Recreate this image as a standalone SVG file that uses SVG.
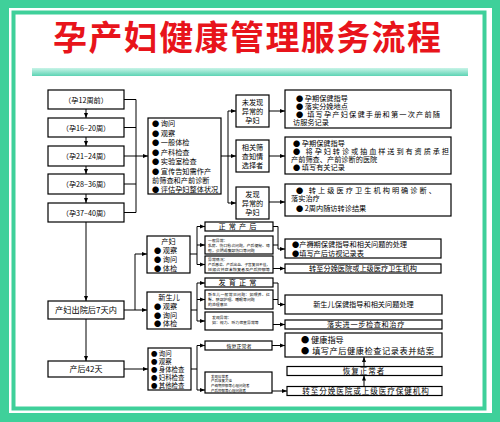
<svg xmlns="http://www.w3.org/2000/svg" width="500" height="422" viewBox="0 0 500 422">
<defs>
<linearGradient id="bar" x1="0" y1="0" x2="0" y2="1">
<stop offset="0" stop-color="#c8f4e8"/><stop offset="1" stop-color="#5cd3b4"/>
</linearGradient>
<marker id="ah" viewBox="0 0 10 10" refX="10" refY="5" markerWidth="5" markerHeight="5" markerUnits="userSpaceOnUse" orient="auto"><path d="M0,1 L10,5 L0,9 z" fill="#000"/></marker>
<style>
.b{fill:#fff;stroke:#000;stroke-width:1.2}
.t{font-family:"Noto Sans CJK SC","Liberation Sans",sans-serif;fill:#000;font-size:7.2px}
.c{text-anchor:middle}
.s{font-size:3.9px}
.l{fill:none;stroke:#000;stroke-width:1}
.a{fill:none;stroke:#000;stroke-width:1;marker-end:url(#ah)}
</style>
</defs>
<rect x="0" y="0" width="500" height="422" fill="#3fd09a"/>
<rect x="9" y="8" width="483" height="405" fill="#fff"/>
<rect x="13.5" y="12.5" width="471" height="396" fill="#fff" stroke="#3fd09a" stroke-width="4"/>
<text x="247" y="50" text-anchor="middle" font-family="'Noto Sans CJK SC','Liberation Sans',sans-serif" font-weight="bold" font-size="34" fill="#e8141b" textLength="388" lengthAdjust="spacing">孕产妇健康管理服务流程</text>
<rect x="32" y="68" width="436" height="8" fill="url(#bar)"/>

<g id="connectors">
<path class="a" d="M86,109V118"/><path class="a" d="M86,137V146"/><path class="a" d="M86,166V174"/><path class="a" d="M86,194V203"/>
<path class="l" d="M124,99.5H136M124,127.5H136M124,156H136M124,184H136M124,212.5H136M136,99.5V212.5"/>
<path class="a" d="M136,156H148"/>
<path class="l" d="M221,156H228M228,111V203"/>
<path class="a" d="M228,111H236"/><path class="a" d="M228,156H236"/><path class="a" d="M228,203H236"/>
<path class="a" d="M269,111H285"/><path class="a" d="M269,156H285"/><path class="a" d="M269,202H285"/>
<path class="a" d="M86,222V301"/>
<path class="a" d="M124,310H147"/>
<path class="l" d="M135,254V310"/><path class="a" d="M135,254H147"/>
<path class="l" d="M190,254H197M197,226.5V264.5"/>
<path class="a" d="M197,226.5H205"/><path class="a" d="M197,245H205"/><path class="a" d="M197,264.5H205"/>
<path class="l" d="M273,226.5H278M273,245H278M278,226.5V249"/>
<path class="a" d="M278,249H285"/>
<path class="a" d="M273,268.5H285"/>
<path class="l" d="M191,310H197M197,283V321"/>
<path class="a" d="M197,283H205"/><path class="a" d="M197,299.5H205"/><path class="a" d="M197,321H205"/>
<path class="l" d="M273,283H278M273,299.5H278M278,283V304.5"/>
<path class="a" d="M278,304.5H285"/>
<path class="a" d="M273,324.5H285"/>
<path class="a" d="M86,319V361"/>
<path class="a" d="M124,369H148"/>
<path class="l" d="M191,369H197M197,345.5V390"/>
<path class="a" d="M197,345.5H205"/><path class="a" d="M197,390H205"/>
<path class="a" d="M272,345.5H285"/>
<path class="a" d="M272,391H287"/>
<path class="a" d="M364,386.5V375.5"/>
<path class="a" d="M364,366.5V357"/>
</g>

<g id="w12"><rect class="b" x="48" y="90" width="76" height="19"/><text class="t c" x="86" y="102.5">（孕12周前）</text></g>
<g id="w16"><rect class="b" x="48" y="118" width="76" height="19"/><text class="t c" x="86" y="130.5">（孕16–20周）</text></g>
<g id="w21"><rect class="b" x="48" y="146" width="76" height="20"/><text class="t c" x="86" y="159">（孕21–24周）</text></g>
<g id="w28"><rect class="b" x="48" y="174" width="76" height="20"/><text class="t c" x="86" y="187">（孕28–36周）</text></g>
<g id="w37"><rect class="b" x="48" y="203" width="76" height="19"/><text class="t c" x="86" y="215.5">（孕37–40周）</text></g>

<g id="check1"><rect class="b" x="148" y="118" width="73" height="76"/>
<text class="t" x="152" y="126">● 询问</text>
<text class="t" x="152" y="135.5">● 观察</text>
<text class="t" x="152" y="145">● 一般体检</text>
<text class="t" x="152" y="154.5">● 产科检查</text>
<text class="t" x="152" y="164">● 实验室检查</text>
<text class="t" x="152" y="173.5">● 宣传告知需作产</text>
<text class="t" x="152" y="183">前筛查和产前诊断</text>
<text class="t" x="152" y="192">● 评估孕妇整体状况</text>
</g>

<g id="nA"><rect class="b" x="236" y="95" width="33" height="32"/>
<text class="t c" x="252.5" y="105">未发现</text><text class="t c" x="252.5" y="114">异常的</text><text class="t c" x="252.5" y="123">孕妇</text></g>
<g id="nB"><rect class="b" x="236" y="140" width="33" height="32"/>
<text class="t c" x="252.5" y="150">相关筛</text><text class="t c" x="252.5" y="159">查知情</text><text class="t c" x="252.5" y="168">选择者</text></g>
<g id="nC"><rect class="b" x="236" y="187" width="33" height="32"/>
<text class="t c" x="252.5" y="197">发现</text><text class="t c" x="252.5" y="206">异常的</text><text class="t c" x="252.5" y="215">孕妇</text></g>

<g id="r1"><rect class="b" x="285" y="90" width="166" height="38"/>
<text class="t" x="296" y="100.5">● 孕期保健指导</text>
<text class="t" x="296" y="108.5">● 落实分娩地点</text>
<text class="t" x="296" y="116.5" textLength="144" lengthAdjust="spacing">● 填写孕产妇保健手册和第一次产前随</text>
<text class="t" x="293" y="124.5">访服务记录</text></g>
<g id="r2"><rect class="b" x="285" y="137" width="166" height="37"/>
<text class="t" x="293" y="145.5">● 孕期保健指导</text>
<text class="t" x="293" y="153.5" textLength="156" lengthAdjust="spacing">● 将孕妇转诊或抽血样送到有资质承担</text>
<text class="t" x="291" y="161.5">产前筛查、产前诊断的医院</text>
<text class="t" x="293" y="169.5">● 填写有关记录</text></g>
<g id="r3"><rect class="b" x="285" y="184" width="166" height="32"/>
<text class="t" x="296" y="192.5" textLength="140" lengthAdjust="spacing">● 转上级医疗卫生机构明确诊断、</text>
<text class="t" x="291" y="200.5">落实治疗</text>
<text class="t" x="296" y="210.5">● 2周内随访转诊结果</text></g>

<g id="d7"><rect class="b" x="48" y="301" width="76" height="18"/><text class="t c" x="86" y="313" style="font-size:8.2px">产妇出院后7天内</text></g>

<g id="mom"><rect class="b" x="147" y="236" width="43" height="37"/>
<text class="t c" x="168.5" y="244">产妇</text>
<text class="t" x="154" y="252.5">● 观察</text>
<text class="t" x="154" y="261.5">● 询问</text>
<text class="t" x="154" y="270.5">● 体检</text></g>

<g id="p1"><rect class="b" x="205" y="222" width="68" height="9"/><text class="t c" x="239" y="229.3" style="letter-spacing:3px">正常产后</text></g>
<g id="p2"><rect class="b" x="205" y="236" width="68" height="18"/>
<text class="t s" x="208" y="241.5">一般异常：</text>
<text class="t s" x="208" y="246.5" textLength="62" lengthAdjust="spacing">乳房、伤口愈合问题，产后便秘、痔</text>
<text class="t s" x="208" y="251.5">疮，会阴或腹部伤口等问题</text></g>
<g id="p3"><rect class="b" x="205" y="256" width="68" height="17"/>
<text class="t s" x="208" y="261.3">异常情况：</text>
<text class="t s" x="208" y="266" textLength="62" lengthAdjust="spacingAndGlyphs">产后感染、产后出血、子宫复旧不佳，</text>
<text class="t s" x="208" y="270.7" textLength="62" lengthAdjust="spacingAndGlyphs">妊娠合并症未恢复者及产后抑郁等</text></g>

<g id="q1"><rect class="b" x="285" y="239" width="156" height="19"/>
<text class="t" x="292" y="247">●产褥期保健指导和相关问题的处理</text>
<text class="t" x="292" y="255.5">●填写产后访视记录表</text></g>
<g id="q2"><rect class="b" x="285" y="264" width="156" height="9"/><text class="t c" x="363" y="271.3">转至分娩医院或上级医疗卫生机构</text></g>

<g id="baby"><rect class="b" x="147" y="292" width="44" height="37"/>
<text class="t c" x="169" y="300">新生儿</text>
<text class="t" x="154" y="309">● 观察</text>
<text class="t" x="154" y="317.5">● 询问</text>
<text class="t" x="154" y="326">● 体检</text></g>

<g id="n1"><rect class="b" x="205" y="278" width="68" height="9"/><text class="t c" x="239" y="285.3" style="letter-spacing:3px">发育正常</text></g>
<g id="n2"><rect class="b" x="205" y="290" width="68" height="19"/>
<text class="t s" x="208" y="295.5" textLength="62" lengthAdjust="spacing">新生儿一般常见问题：如喂养、红</text>
<text class="t s" x="208" y="300.5">臀、脐部护理、睡眠等问题</text>
<text class="t s" x="208" y="305.5">的处理意见</text></g>
<g id="n3"><rect class="b" x="205" y="312" width="68" height="18"/>
<text class="t s" x="212" y="319">发现异常：</text>
<text class="t s" x="212" y="324">如：视力、听力筛查异常等</text></g>

<g id="q3"><rect class="b" x="285" y="295" width="157" height="19"/><text class="t c" x="363.5" y="307">新生儿保健指导和相关问题处理</text></g>
<g id="q4"><rect class="b" x="285" y="320" width="157" height="9"/><text class="t c" x="366" y="327.3" style="letter-spacing:0.6px">落实进一步检查和治疗</text></g>

<g id="d42"><rect class="b" x="48" y="361" width="76" height="16"/><text class="t c" x="86" y="372" style="font-size:8px">产后42天</text></g>
<g id="check2"><rect class="b" x="148" y="348" width="43" height="42"/>
<text class="t" x="151" y="355.5" style="font-size:6.4px">● 询问</text>
<text class="t" x="151" y="363.5" style="font-size:6.4px">● 观察</text>
<text class="t" x="151" y="371.5" style="font-size:6.4px">● 身体检查</text>
<text class="t" x="151" y="379.5" style="font-size:6.4px">● 妇科检查</text>
<text class="t" x="151" y="387.5" style="font-size:6.4px">● 其他检查</text></g>

<g id="s1"><rect class="b" x="205" y="341" width="67" height="9"/><text class="t c" x="239" y="347.5" style="font-size:5px">恢复正常者</text></g>
<g id="s2"><rect class="b" x="205" y="372" width="67" height="21"/>
<text class="t" x="211" y="377.5" style="font-size:3.5px">发现异常者</text>
<text class="t" x="211" y="382.3" style="font-size:3.5px">产后康复欠佳</text>
<text class="t" x="211" y="387.1" style="font-size:3.5px">产褥期抑郁等心理问题者</text>
<text class="t" x="211" y="391.7" style="font-size:3.5px">产后抑郁等心理问题者</text></g>

<g id="t1"><rect class="b" x="285" y="333" width="157" height="24"/>
<text class="t" x="301" y="343" style="font-size:8.2px">● 健康指导</text>
<text class="t" x="301" y="354" style="font-size:8.2px" textLength="133" lengthAdjust="spacing">● 填写产后健康检查记录表并结案</text></g>
<g id="t2"><rect class="b" x="287" y="366.5" width="155" height="9"/><text class="t c" x="364" y="373.8" style="font-size:7.5px;letter-spacing:1px">恢复正常者</text></g>
<g id="t3"><rect class="b" x="287" y="386.5" width="155" height="9"/><text class="t c" x="366" y="393.8" style="font-size:7.6px;letter-spacing:0.9px">转至分娩医院或上级医疗保健机构</text></g>
</svg>
